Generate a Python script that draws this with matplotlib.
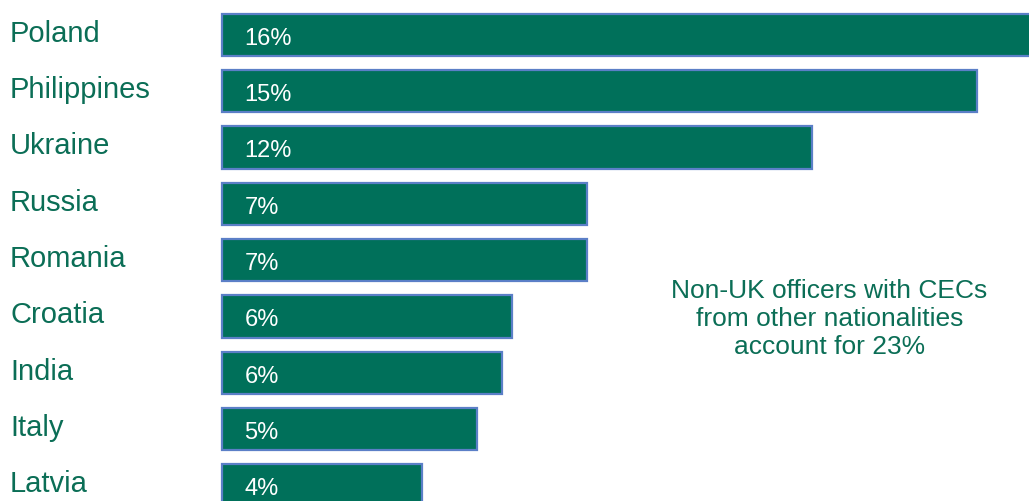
import matplotlib
matplotlib.use("Agg")
import matplotlib.pyplot as plt

plt.rcParams['font.family'] = ['Liberation Sans', 'DejaVu Sans']

# Share of non-UK officers holding CECs, by nationality (%)
countries = ["Poland", "Philippines", "Ukraine", "Russia", "Romania",
             "Croatia", "India", "Italy", "Latvia"]
shares = [16.3, 15.1, 11.8, 7.3, 7.3, 5.8, 5.6, 5.1, 4.0]
note = "Non-UK officers with CECs\nfrom other nationalities\naccount for 23%"

bar_color = "#00705a"
edge_color = "#5b7fc7"
text_green = "#0b6e56"

W, H = 1029, 502
fig = plt.figure(figsize=(W / 100, H / 100), dpi=100)
ax = fig.add_axes([0, 0, 1, 1])

ypos = list(range(len(countries)))
ax.barh(ypos, shares, height=0.75, left=0, color=bar_color,
        edgecolor=edge_color, linewidth=1.6)

for y, name, v in zip(ypos, countries, shares):
    ax.text(-4.24, y - 0.04, name, ha="left", va="center",
            fontsize=21, color=text_green)
    ax.text(0.45, y + 0.05, f"{v:.0f}%", ha="left", va="center",
            fontsize=17, color="white")

ax.text(12.15, 5.03, note, ha="center", va="center", fontsize=19,
        color=text_green, linespacing=1.2)

# 50 px per percentage point, bars starting 222 px from the left edge
ax.set_xlim(-222 / 50, (W - 222) / 50)
step = 56.3
ax.set_ylim((H - 36) / step, -36 / step)
ax.axis("off")

fig.savefig("out.png", dpi=100)
